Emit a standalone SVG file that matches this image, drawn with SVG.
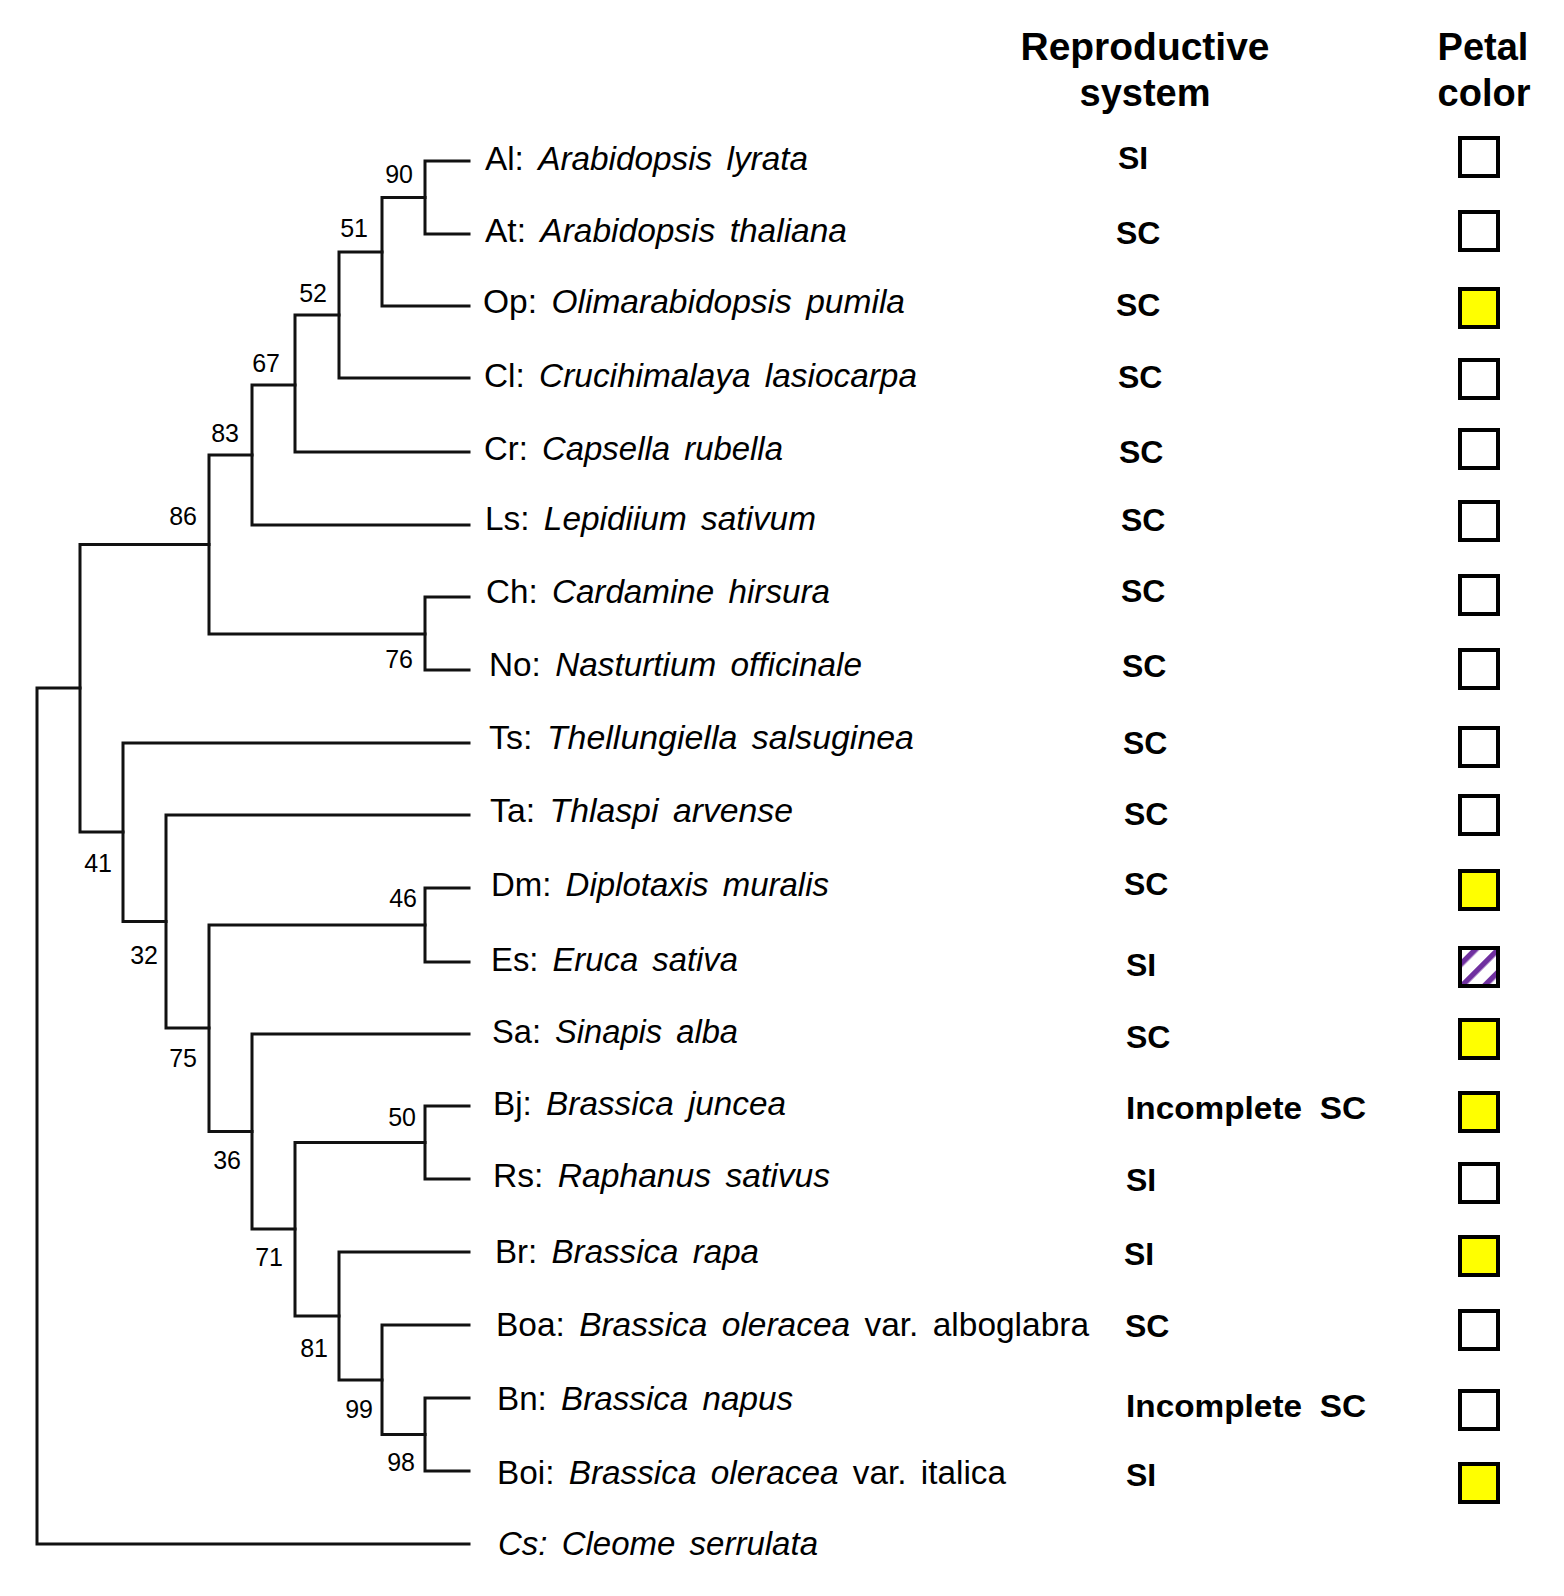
<svg xmlns="http://www.w3.org/2000/svg" width="1564" height="1596" viewBox="0 0 1564 1596">
<defs>
<style>
.br{fill:none;stroke:#111;stroke-width:3;stroke-linecap:square;stroke-linejoin:miter}
.sp{font-family:"Liberation Sans",Arial,sans-serif;font-size:33px;fill:#000;word-spacing:5px}
.it{font-style:italic}
.bs{font-family:"Liberation Sans",Arial,sans-serif;font-size:25px;fill:#000;text-anchor:end}
.rs{font-family:"Liberation Sans",Arial,sans-serif;font-size:32px;font-weight:bold;fill:#000;word-spacing:8px}
.hd{font-family:"Liberation Sans",Arial,sans-serif;font-size:38px;font-weight:bold;fill:#000;text-anchor:middle}
.bx{stroke:#000;stroke-width:4;fill:#fff}
.y{fill:#ffff00}
.h{fill:url(#hatch)}
</style>
<pattern id="hatch" patternUnits="userSpaceOnUse" width="16" height="16" patternTransform="rotate(45)">
<rect x="0" y="0" width="16" height="16" fill="#fff"/>
<rect x="0" y="0" width="5.5" height="16" fill="#7030a0"/>
</pattern>
</defs>
<rect width="1564" height="1596" fill="#fff"/>

<g id="headers">
<text class="hd" x="1145" y="60" textLength="249" lengthAdjust="spacingAndGlyphs">Reproductive</text>
<text class="hd" x="1145" y="106">system</text>
<text class="hd" x="1483" y="60">Petal</text>
<text class="hd" x="1484" y="106">color</text>
</g>

<g id="connectors">
<path class="br" d="M469 161 H425 V234 H469"/>
<path class="br" d="M425 197.5 H382 V306 H469"/>
<path class="br" d="M382 252 H339 V378 H469"/>
<path class="br" d="M339 315 H295 V452 H469"/>
<path class="br" d="M295 385 H252 V525 H469"/>
<path class="br" d="M469 597 H425 V670 H469"/>
<path class="br" d="M252 455 H209 V634 H425"/>
<path class="br" d="M469 888 H425 V962 H469"/>
<path class="br" d="M469 1106 H425 V1179 H469"/>
<path class="br" d="M469 1398 H425 V1471 H469"/>
<path class="br" d="M469 1325 H382 V1434.5 H425"/>
<path class="br" d="M469 1252 H339 V1380 H382"/>
<path class="br" d="M425 1142.5 H295 V1316 H339"/>
<path class="br" d="M469 1034 H252 V1229 H295"/>
<path class="br" d="M425 925 H209 V1131.5 H252"/>
<path class="br" d="M469 815 H166 V1028 H209"/>
<path class="br" d="M469 743 H123 V921.5 H166"/>
<path class="br" d="M209 544.5 H80 V832 H123"/>
<path class="br" d="M80 688 H37 V1544 H469"/>
</g>

<g id="support">
<text class="bs" x="413" y="183">90</text>
<text class="bs" x="368" y="237">51</text>
<text class="bs" x="327" y="302">52</text>
<text class="bs" x="280" y="372">67</text>
<text class="bs" x="239" y="442">83</text>
<text class="bs" x="197" y="525">86</text>
<text class="bs" x="413" y="668">76</text>
<text class="bs" x="112" y="872">41</text>
<text class="bs" x="158" y="964">32</text>
<text class="bs" x="417" y="907">46</text>
<text class="bs" x="197" y="1067">75</text>
<text class="bs" x="241" y="1169">36</text>
<text class="bs" x="416" y="1126">50</text>
<text class="bs" x="283" y="1266">71</text>
<text class="bs" x="328" y="1357">81</text>
<text class="bs" x="373" y="1418">99</text>
<text class="bs" x="415" y="1471">98</text>
</g>

<g id="taxon-Al">
<text class="sp" x="485" y="170" textLength="323" lengthAdjust="spacingAndGlyphs">Al: <tspan class="it">Arabidopsis lyrata</tspan></text>
<text class="rs" x="1118" y="169">SI</text>
<rect class="bx" x="1460" y="138" width="38" height="38"/>
</g>
<g id="taxon-At">
<text class="sp" x="485" y="242" textLength="362" lengthAdjust="spacingAndGlyphs">At: <tspan class="it">Arabidopsis thaliana</tspan></text>
<text class="rs" x="1116" y="244">SC</text>
<rect class="bx" x="1460" y="212" width="38" height="38"/>
</g>
<g id="taxon-Op">
<text class="sp" x="483" y="313" textLength="422" lengthAdjust="spacingAndGlyphs">Op: <tspan class="it">Olimarabidopsis pumila</tspan></text>
<text class="rs" x="1116" y="316">SC</text>
<rect class="bx y" x="1460" y="289" width="38" height="38"/>
</g>
<g id="taxon-Cl">
<text class="sp" x="484" y="387" textLength="433" lengthAdjust="spacingAndGlyphs">Cl: <tspan class="it">Crucihimalaya lasiocarpa</tspan></text>
<text class="rs" x="1118" y="388">SC</text>
<rect class="bx" x="1460" y="360" width="38" height="38"/>
</g>
<g id="taxon-Cr">
<text class="sp" x="484" y="460" textLength="299" lengthAdjust="spacingAndGlyphs">Cr: <tspan class="it">Capsella rubella</tspan></text>
<text class="rs" x="1119" y="463">SC</text>
<rect class="bx" x="1460" y="430" width="38" height="38"/>
</g>
<g id="taxon-Ls">
<text class="sp" x="485" y="530" textLength="331" lengthAdjust="spacingAndGlyphs">Ls: <tspan class="it">Lepidiium sativum</tspan></text>
<text class="rs" x="1121" y="531">SC</text>
<rect class="bx" x="1460" y="502" width="38" height="38"/>
</g>
<g id="taxon-Ch">
<text class="sp" x="486" y="603" textLength="344" lengthAdjust="spacingAndGlyphs">Ch: <tspan class="it">Cardamine hirsura</tspan></text>
<text class="rs" x="1121" y="602">SC</text>
<rect class="bx" x="1460" y="576" width="38" height="38"/>
</g>
<g id="taxon-No">
<text class="sp" x="489" y="676" textLength="373" lengthAdjust="spacingAndGlyphs">No: <tspan class="it">Nasturtium officinale</tspan></text>
<text class="rs" x="1122" y="677">SC</text>
<rect class="bx" x="1460" y="650" width="38" height="38"/>
</g>
<g id="taxon-Ts">
<text class="sp" x="489" y="749" textLength="425" lengthAdjust="spacingAndGlyphs">Ts: <tspan class="it">Thellungiella salsuginea</tspan></text>
<text class="rs" x="1123" y="754">SC</text>
<rect class="bx" x="1460" y="728" width="38" height="38"/>
</g>
<g id="taxon-Ta">
<text class="sp" x="490" y="822" textLength="303" lengthAdjust="spacingAndGlyphs">Ta: <tspan class="it">Thlaspi arvense</tspan></text>
<text class="rs" x="1124" y="825">SC</text>
<rect class="bx" x="1460" y="796" width="38" height="38"/>
</g>
<g id="taxon-Dm">
<text class="sp" x="491" y="896" textLength="338" lengthAdjust="spacingAndGlyphs">Dm: <tspan class="it">Diplotaxis muralis</tspan></text>
<text class="rs" x="1124" y="895">SC</text>
<rect class="bx y" x="1460" y="871" width="38" height="38"/>
</g>
<g id="taxon-Es">
<text class="sp" x="491" y="971" textLength="247" lengthAdjust="spacingAndGlyphs">Es: <tspan class="it">Eruca sativa</tspan></text>
<text class="rs" x="1126" y="976">SI</text>
<rect class="bx h" x="1460" y="948" width="38" height="38"/>
</g>
<g id="taxon-Sa">
<text class="sp" x="492" y="1043" textLength="246" lengthAdjust="spacingAndGlyphs">Sa: <tspan class="it">Sinapis alba</tspan></text>
<text class="rs" x="1126" y="1048">SC</text>
<rect class="bx y" x="1460" y="1020" width="38" height="38"/>
</g>
<g id="taxon-Bj">
<text class="sp" x="493" y="1115" textLength="293" lengthAdjust="spacingAndGlyphs">Bj: <tspan class="it">Brassica juncea</tspan></text>
<text class="rs" x="1126" y="1119" textLength="240" lengthAdjust="spacingAndGlyphs">Incomplete SC</text>
<rect class="bx y" x="1460" y="1093" width="38" height="38"/>
</g>
<g id="taxon-Rs">
<text class="sp" x="493" y="1187" textLength="337" lengthAdjust="spacingAndGlyphs">Rs: <tspan class="it">Raphanus sativus</tspan></text>
<text class="rs" x="1126" y="1191">SI</text>
<rect class="bx" x="1460" y="1164" width="38" height="38"/>
</g>
<g id="taxon-Br">
<text class="sp" x="495" y="1263" textLength="264" lengthAdjust="spacingAndGlyphs">Br: <tspan class="it">Brassica rapa</tspan></text>
<text class="rs" x="1124" y="1265">SI</text>
<rect class="bx y" x="1460" y="1237" width="38" height="38"/>
</g>
<g id="taxon-Boa">
<text class="sp" x="496" y="1336" textLength="593" lengthAdjust="spacingAndGlyphs">Boa: <tspan class="it">Brassica oleracea</tspan> var. alboglabra</text>
<text class="rs" x="1125" y="1337">SC</text>
<rect class="bx" x="1460" y="1311" width="38" height="38"/>
</g>
<g id="taxon-Bn">
<text class="sp" x="497" y="1410" textLength="296" lengthAdjust="spacingAndGlyphs">Bn: <tspan class="it">Brassica napus</tspan></text>
<text class="rs" x="1126" y="1417" textLength="240" lengthAdjust="spacingAndGlyphs">Incomplete SC</text>
<rect class="bx" x="1460" y="1391" width="38" height="38"/>
</g>
<g id="taxon-Boi">
<text class="sp" x="497" y="1484" textLength="509" lengthAdjust="spacingAndGlyphs">Boi: <tspan class="it">Brassica oleracea</tspan> var. italica</text>
<text class="rs" x="1126" y="1486">SI</text>
<rect class="bx y" x="1460" y="1464" width="38" height="38"/>
</g>
<g id="taxon-Cs">
<text class="sp it" x="498" y="1555" textLength="320" lengthAdjust="spacingAndGlyphs">Cs: Cleome serrulata</text>
</g>
</svg>
